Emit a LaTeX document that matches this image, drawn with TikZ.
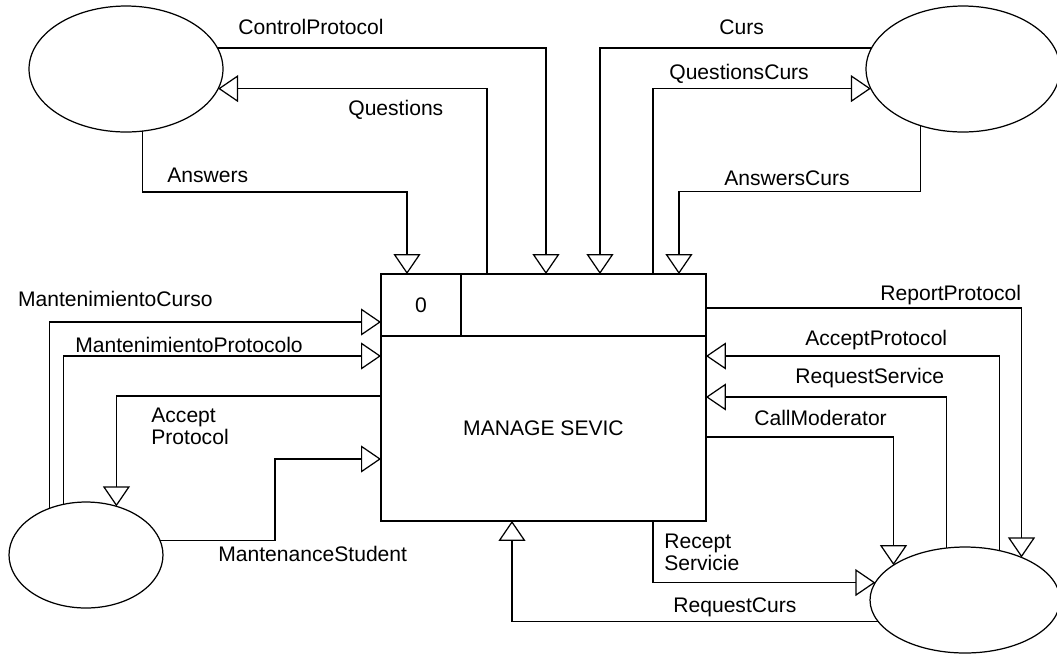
\documentclass[tikz,border=0pt]{standalone}
\usepackage{fontspec}
\setmainfont{Liberation Sans}
\usetikzlibrary{arrows.meta,positioning,shapes.geometric}

\begin{document}
\begin{tikzpicture}[
    x=0.02cm, y=-0.02cm,
    every node/.style={font=\fontsize{12pt}{10.8pt}\selectfont},
    store/.style={draw, ellipse, line width=0.7pt, inner sep=0pt, outer sep=0pt},
    cell/.style={draw, rectangle, line width=0.7pt, inner sep=0pt, outer sep=0pt, minimum height=1.24cm},
    flow/.style={-{Triangle[open, length=4mm, width=5.4mm]}, line width=0.7pt},
    lbl/.style={inner sep=0pt, anchor=west},
    lbltwo/.style={inner sep=0pt, anchor=north west, align=left}
]
\useasboundingbox (0,0) rectangle (1057,654);
% process
\node[cell, minimum width=1.6cm] (id) at (421,305) {0};
\node[cell, minimum width=4.9cm, right=0pt of id] (title) {};
\node[cell, minimum width=6.5cm, minimum height=3.7cm, anchor=north west] (body) at (id.south west) {MANAGE SEVIC};
% stores
\node[store, minimum width=3.88cm, minimum height=2.52cm] (tl) at (126,69) {};
\node[store, minimum width=3.88cm, minimum height=2.52cm] (tr) at (963,69) {};
\node[store, minimum width=3.08cm, minimum height=2.12cm] (bl) at (86,555) {};
\node[store, minimum width=3.8cm, minimum height=2.12cm] (br) at (965,600) {};
% labels
\node[lbl] (lcontrol) at (238,27) {ControlProtocol};
\node[lbl] (lquest) at (348,110) {Questions};
\node[lbl] (lanswers) at (167,175) {Answers};
\node[lbl] (lcurs) at (719,27) {Curs};
\node[lbl] (lquestcurs) at (669,74) {QuestionsCurs};
\node[lbl] (lanscurs) at (724,178) {AnswersCurs};
\node[lbl] (lreport) at (880,295) {ReportProtocol};
\node[lbl] (laccept) at (805,340) {AcceptProtocol};
\node[lbl] (lreqserv) at (795,378) {RequestService};
\node[lbl] (lcallmod) at (754,418) {CallModerator};
\node[lbltwo] (lrecept) at (664,534) {Recept\\Servicie};
\node[lbl] (lreqcurs) at (673,607) {RequestCurs};
\node[lbl, anchor=east] (lmcurso) at (213,299) {MantenimientoCurso};
\node[lbl] (lmprot) at (75,345) {MantenimientoProtocolo};
\node[lbltwo] (lacceptl) at (151,408) {Accept\\Protocol};
\node[lbl] (lmstud) at (218,554) {MantenanceStudent};
% top flows
\draw[flow] (tl.13) -| ([xshift=-0.75cm]title.north);
\draw[flow] ([xshift=-1.93cm]title.north) |- (tl.-12);
\draw[flow] (tl.-75) -- ++(0,61) -| ([xshift=-0.28cm]id.north);
\draw[flow] (tr.167) -| ([xshift=0.33cm]title.north);
\draw[flow] ([xshift=1.39cm]title.north) |- (tr.192);
\draw[flow] (tr.233) -- ++(0,66) -| ([xshift=1.91cm]title.north);
% right flows
\draw[flow] ([yshift=-0.06cm]title.east) -| (br.37);
\draw[flow] (br.55) |- ([yshift=1.45cm]body.east);
\draw[flow] (br.110) |- ([yshift=0.63cm]body.east);
\draw[flow] ([yshift=-0.17cm]body.east) -| (br.154);
\draw[flow] ([xshift=2.19cm]body.south) |- (br.169);
\draw[flow] (br.194) -| ([xshift=-0.63cm]body.south);
% left flows
\draw[flow] (bl.128) |- ([yshift=-0.34cm]id.west);
\draw[flow] (bl.114) |- ([yshift=1.45cm]body.west);
\draw[flow] ([yshift=0.65cm]body.west) -| (bl.58);
\draw[flow] (bl.11) -- ++(115,0) |- ([yshift=-0.61cm]body.west);
\end{tikzpicture}
\end{document}
